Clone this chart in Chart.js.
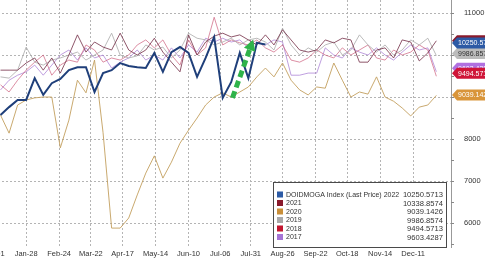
<!DOCTYPE html>
<html>
<head>
<meta charset="utf-8">
<script src="https://cdn.jsdelivr.net/npm/chart.js@4.4.1/dist/chart.umd.min.js"></script>
<style>
  html, body { margin: 0; padding: 0; background: #fff; overflow: hidden; width: 485px; height: 260px; }
  #wrap { position: absolute; left: -30px; top: 0; width: 515px; height: 260px; }
</style>
</head>
<body>
<div id="wrap"><canvas id="chart" width="515" height="260"></canvas></div>
<script>
// weekly points, day-of-year of the first one (Jan-07) and the step
const firstDay = 6
const stepDays = 7

const tickDays = [0, 27, 54, 80, 106, 133, 160, 186, 211, 237, 264, 290, 317, 344]
const tickLabels = ["Jan-01", "Jan-28", "Feb-24", "Mar-22", "Apr-17", "May-14", "Jun-10", "Jul-06", "Jul-31", "Aug-26", "Sep-22", "Oct-18", "Nov-14", "Dec-11"]
const yTicks = [6000, 7000, 8000, 9000, 10000, 11000]
const yMinorTicks = [5500, 6500, 7500, 8500, 9500, 10500]

const legendNames = ["DOIDMOGA Index (Last Price) 2022", "2021", "2020", "2019", "2018", "2017"]

const series2022 = [8570, 8760, 8930, 8930, 9450, 9050, 9330, 9430, 9640, 9710, 9710, 9120, 9570, 9640, 9810, 9740, 9710, 9690, 10050, 9600, 10070, 10190, 10050, 9480, 9930, 10430, 8980, 9360, 10050, 9450, 10290, 10250.5713]
const series2021 = [9640, 9640, 9640, 9810, 9930, 9640, 9930, 9570, 10000, 10480, 10070, 10310, 10190, 10120, 10520, 10120, 10000, 10120, 10400, 10070, 9830, 9600, 10480, 10000, 10310, 10450, 10520, 10430, 10480, 10360, 10240, 10480, 10240, 10600, 10360, 10120, 10070, 10120, 10360, 10290, 10400, 10360, 9830, 9830, 10120, 10170, 9930, 10360, 10310, 9860, 10050, 10338.8574]
const series2020 = [8570, 8140, 8810, 8930, 8980, 9000, 9000, 7790, 8450, 9400, 9100, 9880, 8150, 5880, 5880, 6120, 6670, 7190, 7600, 7070, 7450, 7900, 8210, 8500, 8810, 9000, 9100, 9000, 9120, 9240, 9480, 9690, 9480, 9810, 9400, 9170, 9050, 9240, 9210, 9810, 9400, 9000, 9120, 9070, 9480, 9000, 8900, 8740, 8550, 8760, 8810, 9039.1426]
const series2019 = [9480, 9450, 9640, 10190, 9830, 9760, 9880, 9930, 10000, 10070, 9880, 10000, 10120, 10520, 10000, 9930, 9980, 10240, 10120, 10190, 9930, 10120, 10520, 10400, 10360, 10240, 10310, 10400, 10240, 10360, 10400, 10310, 10120, 10640, 10240, 10000, 10170, 10070, 10240, 10310, 10000, 10120, 10480, 10240, 10070, 10240, 10000, 10120, 10360, 10240, 10400, 9986.8574]
const series2018 = [9290, 9120, 9400, 9640, 9830, 10000, 9520, 9760, 9880, 9830, 10240, 10120, 9830, 9930, 9880, 10000, 10240, 10360, 10170, 10360, 10000, 9760, 10360, 10000, 10170, 10900, 10240, 10360, 10290, 10240, 10360, 10170, 10070, 10240, 9880, 9830, 9930, 10120, 10000, 9930, 10170, 10000, 10120, 10240, 9930, 9880, 10120, 10000, 10070, 10240, 10120, 9494.5713]
const series2017 = [9170, 9400, 9520, 9600, 9760, 9520, 9760, 10000, 10120, 9880, 10170, 9930, 10000, 9690, 9830, 9930, 10120, 9880, 10000, 9880, 10170, 9930, 10240, 10070, 10400, 10310, 10400, 10310, 10360, 10170, 10310, 10240, 10360, 10310, 9520, 9520, 9570, 9570, 10170, 10000, 9930, 10170, 10070, 10000, 10170, 10000, 9880, 10070, 10240, 10120, 10170, 9603.4287]

// green dashed arrow, in (day, value)
const arrowFrom = { x: 196, y: 8980 }
const arrowTo = { x: 213, y: 10370 }

const lineColors = ["#1f3f7a", "rgba(115,45,70,0.8)", "rgba(195,160,95,0.9)", "rgba(175,175,175,0.85)", "rgba(205,95,125,0.7)", "rgba(175,135,215,0.8)"]
const keyColors = ["#2d5ba6", "#8a1a2c", "#c98f3a", "#a9a9a9", "#c2162f", "#a574d6"]
const tagColors = ["#2d5aa5", "#8a1a2c", "#d9953a", "#bcbcbc", "#cf1538", "#b070e0"]
const tagText = ["#fff", "#fff", "#fff", "#333", "#fff", "#fff"]
const tagShift = [-1.5, 0, -0.5, -2, -3, -3.5]
const tagOrder = [1, 5, 4, 2, 3, 0]
const gridColor = "#b4b4b4"

const toPoints = (values) => values.map((v, i) => ({ x: firstDay + stepDays * i, y: v }))

// horizontal dotted grid (drawn as dots) and the tick marks of the right axis
const valueGrid = {
  id: "valueGrid",
  beforeDatasetsDraw(chart) {
    const { ctx, chartArea, scales: { y } } = chart
    ctx.save()
    ctx.fillStyle = gridColor
    yTicks.forEach((v) => {
      const py = Math.round(y.getPixelForValue(v))
      for (let px = Math.ceil(chartArea.left); px < chartArea.right; px += 4) {
        ctx.fillRect(px, py, 2, 1)
      }
    })
    ctx.fillStyle = "#888"
    yTicks.concat(yMinorTicks).forEach((v) => {
      const py = Math.round(y.getPixelForValue(v))
      ctx.fillRect(chartArea.right, py, 3, 1)
    })
    ctx.restore()
  }
}

const endTags = {
  id: "endTags",
  afterDraw(chart) {
    const { ctx, chartArea, scales: { y } } = chart
    ctx.save()
    ctx.font = "7px Arial"
    ctx.textBaseline = "middle"
    tagOrder.forEach((k) => {
      const ds = chart.data.datasets[k]
      const last = ds.data[ds.data.length - 1].y
      const cy = y.getPixelForValue(last) + tagShift[k]
      const x0 = chartArea.right + 1
      ctx.fillStyle = tagColors[k]
      ctx.beginPath()
      ctx.moveTo(x0, cy)
      ctx.lineTo(x0 + 5, cy - 5.5)
      ctx.lineTo(chart.width, cy - 5.5)
      ctx.lineTo(chart.width, cy + 5.5)
      ctx.lineTo(x0 + 5, cy + 5.5)
      ctx.closePath()
      ctx.fill()
      ctx.fillStyle = tagText[k]
      ctx.fillText(last.toFixed(4), x0 + 6, cy + 0.5)
    })
    ctx.restore()
  }
}

const keyBox = {
  id: "keyBox",
  afterDraw(chart) {
    const { ctx, chartArea } = chart
    const right = chartArea.right - 4
    const left = right - 174
    const top = chartArea.bottom - 65
    const bottom = chartArea.bottom + 1
    ctx.save()
    ctx.fillStyle = "#fff"
    ctx.fillRect(left, top, right - left, bottom - top)
    ctx.strokeStyle = "#4a4a4a"
    ctx.lineWidth = 1
    ctx.strokeRect(left + 0.5, top + 0.5, right - left - 1, bottom - top - 1)
    ctx.textBaseline = "middle"
    chart.data.datasets.forEach((ds, i) => {
      const cy = top + 13 + i * 8.5
      ctx.fillStyle = keyColors[i]
      ctx.fillRect(left + 4, cy - 3.5, 6, 6)
      ctx.fillStyle = "#333"
      ctx.font = "7px Arial"
      ctx.textAlign = "left"
      ctx.fillText(legendNames[i], left + 13, cy)
      ctx.font = "7.6px Arial"
      ctx.textAlign = "right"
      ctx.fillText(ds.data[ds.data.length - 1].y.toFixed(4), right - 4, cy)
    })
    ctx.restore()
  }
}

const greenArrow = {
  id: "greenArrow",
  afterDatasetsDraw(chart) {
    const { ctx, scales: { x, y } } = chart
    const x1 = x.getPixelForValue(arrowFrom.x), y1 = y.getPixelForValue(arrowFrom.y)
    const x2 = x.getPixelForValue(arrowTo.x), y2 = y.getPixelForValue(arrowTo.y)
    const ang = Math.atan2(y2 - y1, x2 - x1)
    const headLen = 11
    const bx = x2 - headLen * Math.cos(ang), by = y2 - headLen * Math.sin(ang)
    ctx.save()
    ctx.strokeStyle = "#2fb34a"
    ctx.fillStyle = "#2fb34a"
    ctx.lineWidth = 5
    ctx.setLineDash([7, 4])
    ctx.beginPath()
    ctx.moveTo(x1, y1)
    ctx.lineTo(bx, by)
    ctx.stroke()
    ctx.setLineDash([])
    ctx.beginPath()
    ctx.moveTo(x2, y2)
    ctx.lineTo(bx + 6 * Math.sin(ang), by - 6 * Math.cos(ang))
    ctx.lineTo(bx - 6 * Math.sin(ang), by + 6 * Math.cos(ang))
    ctx.closePath()
    ctx.fill()
    ctx.restore()
  }
}

const allSeries = [series2022, series2021, series2020, series2019, series2018, series2017]

new Chart(document.getElementById("chart"), {
  type: "line",
  data: {
    datasets: allSeries.map((values, i) => ({
      label: legendNames[i],
      data: toPoints(values),
      borderColor: lineColors[i],
      borderWidth: i === 0 ? 2 : 1,
      pointRadius: 0,
      tension: 0,
      fill: false
    }))
  },
  options: {
    responsive: false,
    animation: false,
    devicePixelRatio: 1,
    layout: { padding: 0 },
    plugins: { legend: { display: false }, tooltip: { enabled: false } },
    scales: {
      x: {
        type: "linear",
        min: -19,
        max: 375,
        afterFit: (scale) => { scale.height = 13; scale.paddingLeft = 0; scale.paddingRight = 0 },
        afterBuildTicks: (scale) => { scale.ticks = tickDays.map((v) => ({ value: v })) },
        ticks: {
          autoSkip: false,
          maxRotation: 0,
          padding: 2,
          color: "#333",
          font: { size: 7.5, family: "Arial" },
          callback: (v) => tickLabels[tickDays.indexOf(v)]
        },
        grid: { color: gridColor, drawTicks: false },
        border: { display: false, dash: [2, 2] }
      },
      y: {
        position: "right",
        min: 5430,
        max: 11310,
        afterFit: (scale) => { scale.width = 34; scale.paddingTop = 0; scale.paddingBottom = 0 },
        afterBuildTicks: (scale) => { scale.ticks = yTicks.map((v) => ({ value: v })) },
        ticks: {
          autoSkip: false,
          padding: 5,
          color: "#333",
          font: { size: 7.5, family: "Arial" },
          callback: (v) => String(v)
        },
        grid: { display: false },
        border: { display: true, color: "#999" }
      }
    }
  },
  plugins: [valueGrid, greenArrow, endTags, keyBox]
})
</script>
</body>
</html>
